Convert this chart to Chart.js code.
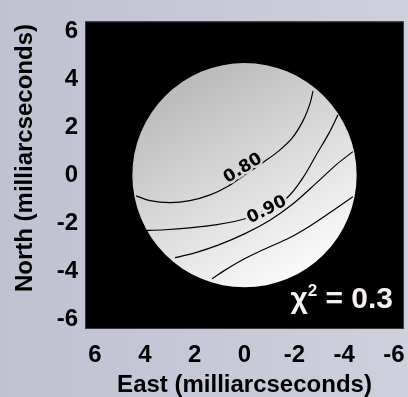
<!doctype html>
<html>
<head>
<meta charset="utf-8">
<script src="https://cdn.jsdelivr.net/npm/chart.js@4.4.1/dist/chart.umd.min.js"></script>
<style>
    html, body { margin: 0; padding: 0; }
    #wrap { width: 408px; height: 397px; }
</style>
</head>
<body>
<div id="wrap"><canvas id="chart"></canvas></div>
<script>
    // axis ticks (mas)
    const tickValues = [-6, -4, -2, 0, 2, 4, 6];
    // the disc of the model
    const discCenter = [{x: 0, y: 0}];
    const discRadius = 4.5;
    // contour lines (East, North)
    const contour80 = [
        {x: 4.35, y: -0.86}, {x: 3.79, y: -1.06}, {x: 2.99, y: -1.14}, {x: 2.19, y: -1.06},
        {x: 1.38, y: -0.82}, {x: 0.66, y: -0.46}, {x: -0.02, y: 0.02}, {x: -0.70, y: 0.50},
        {x: -1.34, y: 0.98}, {x: -1.91, y: 1.54}, {x: -2.35, y: 2.27}, {x: -2.63, y: 2.99},
        {x: -2.75, y: 3.51}
    ];
    const contour90 = [
        {x: 4.15, y: -2.31}, {x: 3.19, y: -2.27}, {x: 2.19, y: -2.19}, {x: 1.18, y: -2.07},
        {x: -0.10, y: -1.79}, {x: -0.90, y: -1.42}, {x: -1.71, y: -0.94}, {x: -2.35, y: -0.10},
        {x: -2.91, y: 0.90}, {x: -3.39, y: 1.75}, {x: -3.75, y: 2.51}
    ];
    const contourC = [
        {x: 2.79, y: -3.43}, {x: 1.99, y: -3.23}, {x: 1.06, y: -2.91}, {x: -0.02, y: -2.43},
        {x: -1.02, y: -1.87}, {x: -1.91, y: -1.22}, {x: -2.91, y: -0.30}, {x: -3.71, y: 0.46},
        {x: -4.35, y: 0.98}
    ];
    const contourD = [
        {x: 1.30, y: -4.31}, {x: 0.78, y: -3.95}, {x: -0.02, y: -3.47}, {x: -0.82, y: -3.07},
        {x: -1.83, y: -2.59}, {x: -2.63, y: -2.11}, {x: -3.51, y: -1.50}, {x: -4.35, y: -0.90}
    ];
    // contour labels
    const labelTexts = ['0.80', '0.90'];
    const labelX = [0.06, -0.90];
    const labelY = [0.28, -1.45];
    const chiText = '0.3';
    const yTitle = 'North (milliarcseconds)';

    function discGradient(chart) {
        const xs = chart.scales.x, ys = chart.scales.y;
        const g = chart.ctx.createLinearGradient(
            xs.getPixelForValue(2.5), ys.getPixelForValue(3.5),
            xs.getPixelForValue(-2), ys.getPixelForValue(-4.5));
        g.addColorStop(0, '#bcbcbc');
        g.addColorStop(1, '#fcfcfc');
        return g;
    }

    const backdrop = {
        id: 'backdrop',
        beforeDraw(chart) {
            const {ctx, width, height, chartArea: a} = chart;
            ctx.save();
            const g = ctx.createLinearGradient(0, 0, width, 0);
            g.addColorStop(0, '#c0c1d1');
            g.addColorStop(1, '#cfd0dd');
            ctx.fillStyle = g;
            ctx.fillRect(0, 0, width, height);
            ctx.fillStyle = '#000';
            ctx.fillRect(a.left, a.top, a.right - a.left, a.bottom - a.top);
            ctx.strokeStyle = '#3a3a3a';
            ctx.lineWidth = 1;
            ctx.strokeRect(a.left + 0.5, a.top + 0.5, a.right - a.left - 1, a.bottom - a.top - 1);
            // y axis title, sitting a little above centre as in the original
            ctx.translate(25, 158);
            ctx.rotate(-Math.PI / 2);
            ctx.fillStyle = '#000';
            ctx.font = 'bold 24px "Liberation Sans"';
            ctx.textAlign = 'center';
            ctx.textBaseline = 'middle';
            ctx.fillText(yTitle, 0, 0);
            ctx.restore();
        },
        afterDatasetsDraw(chart) {
            const {ctx, chartArea: a} = chart;
            const xs = chart.scales.x, ys = chart.scales.y;
            const angles = [-0.55, -0.47];
            const halo = ['#d4d4d4', '#e3e3e3'];
            ctx.save();
            ctx.font = 'bold 17px "DejaVu Sans"';
            ctx.textAlign = 'center';
            ctx.textBaseline = 'middle';
            labelTexts.forEach((t, i) => {
                ctx.save();
                ctx.translate(xs.getPixelForValue(labelX[i]), ys.getPixelForValue(labelY[i]));
                ctx.rotate(angles[i]);
                ctx.lineWidth = 5;
                ctx.strokeStyle = halo[i];
                ctx.strokeText(t, 0, 0);
                ctx.fillStyle = '#000';
                ctx.fillText(t, 0, 0);
                ctx.restore();
            });
            // chi-square note
            ctx.fillStyle = '#f6f1f1';
            ctx.textAlign = 'right';
            ctx.textBaseline = 'alphabetic';
            ctx.font = 'bold 30px "Liberation Sans"';
            const right = a.right - 11, base = a.bottom - 21;
            const tail = ' = ' + chiText;
            ctx.fillText(tail, right, base);
            let x = right - ctx.measureText(tail).width;
            ctx.font = 'bold 17px "Liberation Sans"';
            ctx.fillText('2', x, base - 12);
            x -= ctx.measureText('2').width;
            ctx.font = 'bold 30px "Liberation Sans"';
            ctx.fillText('χ', x, base);
            ctx.restore();
        }
    };

    function lineSet(data) {
        return {
            data: data,
            showLine: true,
            borderColor: '#000',
            borderWidth: 1.2,
            pointRadius: 0,
            tension: 0.35,
            order: 0
        };
    }

    const axisFont = {family: 'Liberation Sans', size: 24, weight: 'bold'};
    const titleFont = {family: 'Liberation Sans', size: 24, weight: 'bold', lineHeight: 1};

    new Chart(document.getElementById('chart'), {
        type: 'scatter',
        data: {
            datasets: [
                {
                    data: discCenter,
                    pointStyle: 'circle',
                    borderWidth: 0,
                    order: 1,
                    pointRadius: (c) => {
                        const s = c.chart.scales.x;
                        return s ? Math.abs(s.getPixelForValue(discRadius) - s.getPixelForValue(0)) : 0;
                    },
                    pointHoverRadius: (c) => {
                        const s = c.chart.scales.x;
                        return s ? Math.abs(s.getPixelForValue(discRadius) - s.getPixelForValue(0)) : 0;
                    },
                    backgroundColor: (c) => c.chart.chartArea ? discGradient(c.chart) : '#ddd'
                },
                lineSet(contour80),
                lineSet(contour90),
                lineSet(contourC),
                lineSet(contourD)
            ]
        },
        options: {
            responsive: true,
            maintainAspectRatio: false,
            animation: false,
            layout: {padding: {top: 10, right: 4, left: 0, bottom: 0}},
            plugins: {legend: {display: false}, tooltip: {enabled: false}},
            scales: {
                x: {
                    type: 'linear',
                    min: -6.4,
                    max: 6.4,
                    reverse: true,
                    grid: {display: false, drawTicks: false},
                    border: {display: false},
                    afterBuildTicks: (s) => { s.ticks = tickValues.map(v => ({value: v})); },
                    afterFit: (s) => { s.height = 68; },
                    ticks: {color: '#000', font: axisFont, padding: 12, maxRotation: 0, autoSkip: false},
                    title: {display: true, text: 'East (milliarcseconds)', color: '#000', font: titleFont, padding: {top: 0, bottom: 0}}
                },
                y: {
                    type: 'linear',
                    min: -6.4,
                    max: 6.4,
                    grid: {display: false, drawTicks: false},
                    border: {display: false},
                    afterBuildTicks: (s) => { s.ticks = tickValues.map(v => ({value: v})); },
                    afterFit: (s) => { s.width = 85; },
                    ticks: {color: '#000', font: axisFont, padding: 7, autoSkip: false},
                    title: {display: false}
                }
            }
        },
        plugins: [backdrop]
    });
</script>
</body>
</html>
